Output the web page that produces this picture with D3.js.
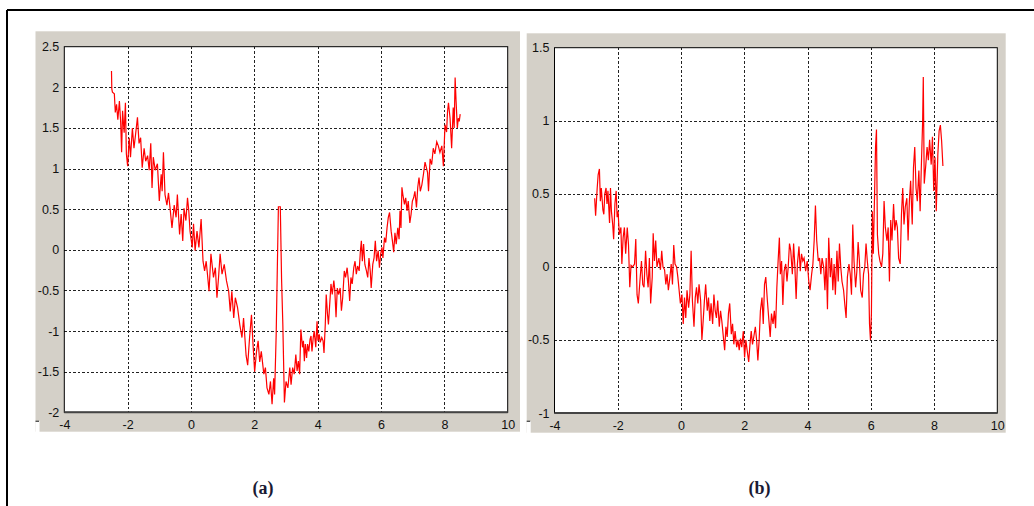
<!DOCTYPE html>
<html>
<head>
<meta charset="utf-8">
<script src="https://cdn.jsdelivr.net/npm/d3@7/dist/d3.min.js"></script>
<style>
  html, body { margin: 0; padding: 0; background: #ffffff; }
  svg { display: block; }
</style>
</head>
<body>
<svg id="chart" width="1034" height="506"></svg>
<script>
// ---------------- DATA ----------------
const xTicks = [-4, -2, 0, 2, 4, 6, 8, 10];
const yTicksA = [-2, -1.5, -1, -0.5, 0, 0.5, 1, 1.5, 2, 2.5];
const yTicksB = [-1, -0.5, 0, 0.5, 1, 1.5];
const panelLabels = ["(a)", "(b)"];

// panel (a) trace
const xA = [
 -2.51,-2.50,-2.48,-2.42,-2.39,-2.35,-2.31,-2.26,-2.22,-2.19,
 -2.16,-2.11,-2.07,-2.04,-2.00,-1.95,-1.91,-1.85,-1.80,-1.75,
 -1.69,-1.64,-1.59,-1.54,-1.48,-1.43,-1.37,-1.32,-1.27,-1.23,
 -1.19,-1.13,-1.06,-1.00,-0.94,-0.91,-0.87,-0.82,-0.76,-0.71,
 -0.66,-0.60,-0.53,-0.47,-0.43,-0.36,-0.31,-0.26,-0.22,-0.16,
 -0.11,-0.07,-0.03,0.04,0.08,0.13,0.19,0.25,0.32,0.38,
 0.43,0.48,0.52,0.57,0.63,0.71,0.77,0.82,0.87,0.92,
 0.98,1.05,1.12,1.19,1.24,1.29,1.35,1.40,1.47,1.54,
 1.61,1.66,1.74,1.79,1.85,1.91,1.96,2.01,2.07,2.12,
 2.17,2.22,2.30,2.35,2.40,2.46,2.51,2.56,2.61,2.64,
 2.69,2.72,2.76,2.82,2.86,2.90,2.95,3.00,3.06,3.12,
 3.16,3.21,3.26,3.31,3.35,3.39,3.43,3.47,3.52,3.55,
 3.58,3.61,3.65,3.68,3.72,3.76,3.79,3.82,3.86,3.89,
 3.94,3.98,4.01,4.05,4.08,4.13,4.17,4.20,4.24,4.27,
 4.31,4.34,4.38,4.42,4.46,4.51,4.54,4.58,4.62,4.66,
 4.71,4.75,4.79,4.84,4.88,4.93,4.97,5.01,5.05,5.09,
 5.14,5.18,5.22,5.26,5.31,5.35,5.38,5.41,5.45,5.49,
 5.54,5.58,5.62,5.66,5.69,5.74,5.78,5.82,5.86,5.91,
 5.95,5.99,6.03,6.06,6.11,6.15,6.19,6.23,6.27,6.32,
 6.36,6.40,6.44,6.48,6.53,6.57,6.60,6.63,6.66,6.69,
 6.74,6.78,6.82,6.86,6.91,6.95,6.99,7.03,7.07,7.12,
 7.16,7.20,7.24,7.29,7.34,7.39,7.44,7.47,7.50,7.55,
 7.60,7.65,7.70,7.76,7.81,7.86,7.92,7.97,8.02,8.07,
 8.10,8.13,8.18,8.23,8.28,8.31,8.34,8.37,8.41,8.44,
 8.47,8.50];
const yA = [
 2.20,1.98,1.94,1.92,1.69,1.79,1.60,1.83,1.57,1.20,
 1.71,1.44,1.81,1.18,1.03,1.38,1.14,1.50,1.25,1.42,
 1.63,1.31,1.38,1.01,1.25,1.09,1.16,0.98,1.31,0.76,
 1.14,0.98,1.06,0.60,0.93,0.72,1.20,0.68,0.55,0.70,
 0.51,0.27,0.55,0.40,0.68,0.19,0.44,0.11,0.51,0.36,
 0.64,0.48,0.23,0.03,0.32,-0.01,0.23,0.03,0.38,-0.14,
 -0.26,-0.14,-0.30,-0.51,-0.05,-0.34,-0.22,-0.59,-0.34,-0.05,
 -0.30,-0.18,-0.38,-0.51,-0.76,-0.51,-0.84,-0.59,-0.71,-0.92,
 -1.08,-0.84,-1.30,-1.42,-1.08,-0.80,-1.17,-1.50,-1.25,-1.12,
 -1.38,-1.25,-1.53,-1.45,-1.70,-1.78,-1.62,-1.90,-1.58,-1.78,
 -1.04,-0.36,0.53,0.53,-0.36,-0.92,-1.88,-1.62,-1.70,-1.45,
 -1.66,-1.45,-1.53,-1.29,-1.49,-1.37,-1.53,-0.98,-1.20,-1.12,
 -1.37,-1.16,-1.33,-1.16,-1.25,-1.10,-1.06,-1.25,-1.08,-1.00,
 -1.20,-0.88,-1.12,-1.04,-1.14,-1.08,-1.12,-1.27,-0.92,-0.55,
 -0.79,-0.92,-0.67,-0.42,-0.55,-0.38,-0.49,-0.83,-0.47,-0.55,
 -0.47,-0.75,-0.59,-0.26,-0.34,-0.22,-0.38,-0.63,-0.34,-0.42,
 -0.22,-0.14,-0.30,-0.20,-0.26,-0.01,0.11,-0.14,0.07,-0.18,
 -0.26,-0.34,-0.10,-0.26,-0.47,-0.18,-0.10,0.11,-0.14,-0.01,
 -0.22,-0.05,0.03,-0.10,0.15,0.09,0.27,0.40,0.46,0.23,
 0.11,-0.03,0.21,0.07,0.27,0.13,0.48,0.27,0.77,0.68,
 0.56,0.64,0.48,0.60,0.33,0.44,0.60,0.64,0.72,0.52,
 0.77,0.89,0.72,0.80,0.93,1.08,1.00,0.95,0.72,1.12,
 1.05,1.25,1.18,1.33,1.28,1.20,1.28,1.03,1.54,1.45,
 1.70,1.81,1.62,1.25,1.75,1.50,2.12,1.83,1.50,1.62,
 1.58,1.67];

// panel (b) trace
const xB = [-2.73,-2.70,-2.65,-2.62,-2.58,-2.55,-2.52,-2.47,-2.44,-2.41,-2.37,-2.34,-2.31,-2.26,-2.23,-2.20,-2.16,-2.13,-2.09,-2.05,
 -2.02,-1.99,-1.95,-1.90,-1.87,-1.83,-1.79,-1.75,-1.70,-1.66,-1.62,-1.58,-1.53,-1.47,-1.43,-1.39,-1.35,-1.30,-1.25,-1.21,
 -1.17,-1.12,-1.08,-1.04,-1.00,-0.96,-0.91,-0.88,-0.84,-0.80,-0.76,-0.70,-0.65,-0.61,-0.57,-0.52,-0.48,-0.44,-0.40,-0.35,
 -0.31,-0.27,-0.23,-0.19,-0.14,-0.10,-0.06,-0.02,0.03,0.07,0.11,0.15,0.19,0.24,0.28,0.32,0.36,0.41,0.45,0.49,
 0.53,0.57,0.62,0.66,0.70,0.74,0.78,0.83,0.87,0.91,0.95,1.00,1.04,1.08,1.12,1.16,1.21,1.25,1.29,1.33,
 1.38,1.42,1.46,1.50,1.54,1.59,1.63,1.67,1.71,1.76,1.80,1.84,1.88,1.92,1.97,2.01,2.05,2.09,2.14,2.18,
 2.22,2.26,2.30,2.35,2.39,2.43,2.47,2.51,2.56,2.60,2.64,2.68,2.73,2.78,2.82,2.86,2.91,2.95,2.99,3.03,
 3.07,3.11,3.14,3.18,3.22,3.26,3.31,3.35,3.39,3.43,3.47,3.52,3.56,3.60,3.64,3.68,3.73,3.77,3.81,3.85,
 3.89,3.94,3.99,4.04,4.08,4.13,4.17,4.21,4.25,4.29,4.34,4.38,4.42,4.46,4.51,4.55,4.59,4.63,4.67,4.72,
 4.76,4.80,4.84,4.88,4.93,4.97,5.01,5.05,5.09,5.14,5.18,5.22,5.26,5.31,5.35,5.39,5.43,5.47,5.52,5.56,
 5.60,5.64,5.68,5.73,5.77,5.81,5.85,5.89,5.93,5.96,5.99,6.02,6.05,6.08,6.12,6.15,6.18,6.21,6.25,6.29,
 6.34,6.38,6.42,6.46,6.51,6.55,6.59,6.63,6.67,6.72,6.76,6.80,6.84,6.88,6.93,6.97,7.01,7.05,7.09,7.14,
 7.18,7.22,7.26,7.31,7.35,7.39,7.43,7.47,7.52,7.56,7.60,7.64,7.66,7.69,7.74,7.78,7.82,7.86,7.91,7.95,
 7.99,8.03,8.07,8.12,8.16,8.20,8.24,8.28];
const yB = [0.47,0.35,0.54,0.63,0.67,0.45,0.54,0.39,0.36,0.50,0.54,0.43,0.52,0.30,0.54,0.38,0.29,0.19,0.43,0.52,
 0.34,0.38,0.22,0.27,0.02,0.20,0.27,0.09,0.27,0.15,-0.14,0.01,0.00,0.02,0.19,-0.19,-0.25,-0.10,0.04,-0.12,
 -0.14,0.11,-0.05,-0.14,0.06,-0.25,-0.07,0.23,0.04,0.18,0.00,0.06,-0.02,0.11,0.00,-0.02,-0.12,-0.05,-0.16,-0.07,
 0.02,-0.12,0.15,0.02,0.00,-0.07,-0.16,-0.25,-0.19,-0.39,-0.21,-0.35,-0.16,-0.28,-0.19,0.11,-0.23,-0.41,-0.21,-0.14,
 -0.25,-0.12,-0.23,-0.50,-0.37,-0.23,-0.12,-0.30,-0.21,-0.37,-0.25,-0.39,-0.19,-0.30,-0.35,-0.23,-0.41,-0.30,-0.37,-0.46,
 -0.57,-0.41,-0.48,-0.32,-0.25,-0.46,-0.39,-0.53,-0.44,-0.55,-0.50,-0.57,-0.49,-0.55,-0.44,-0.62,-0.50,-0.57,-0.65,-0.53,
 -0.44,-0.53,-0.48,-0.41,-0.50,-0.64,-0.50,-0.30,-0.21,-0.39,-0.12,-0.07,-0.23,-0.37,-0.48,-0.32,-0.39,-0.30,-0.42,-0.14,
 0.04,0.20,-0.05,0.04,-0.26,-0.03,0.02,-0.10,0.00,0.16,0.11,-0.05,0.16,0.00,-0.22,0.02,0.14,-0.03,0.09,0.04,
 0.06,-0.03,0.04,-0.10,-0.16,-0.05,0.02,0.18,0.42,0.18,0.04,0.06,-0.05,0.06,0.00,-0.16,0.06,-0.29,0.20,-0.07,
 0.06,-0.16,0.02,-0.19,0.11,-0.10,0.16,0.00,-0.10,-0.16,-0.26,-0.35,-0.07,0.02,-0.05,-0.19,0.29,0.04,-0.14,-0.03,
 0.17,0.04,-0.16,-0.21,-0.05,0.00,0.16,0.04,-0.05,-0.39,-0.50,-0.32,0.38,0.09,0.50,0.82,0.94,0.22,0.09,0.04,
 0.00,0.09,0.45,0.27,0.18,0.27,-0.10,0.32,0.18,0.43,0.25,0.32,0.27,0.06,0.02,0.36,0.54,0.29,0.41,0.47,
 0.18,0.45,0.59,0.29,0.68,0.82,0.54,0.45,0.66,0.38,0.70,1.00,1.30,0.57,0.70,0.82,0.73,0.87,0.70,0.89,
 0.52,0.75,0.38,0.77,0.93,0.97,0.86,0.69];

// ---------------- DRAW ----------------
const svg = d3.select("#chart");

// outer frame (top and left edges)
svg.append("line").attr("x1", 7).attr("y1", 10).attr("x2", 1034).attr("y2", 10)
  .attr("stroke", "#000").attr("stroke-width", 2);
svg.append("line").attr("x1", 7).attr("y1", 10).attr("x2", 7).attr("y2", 506)
  .attr("stroke", "#000").attr("stroke-width", 2);

const panels = [
  { bg: [35.5, 31.3, 520, 431.7], xr: [64.3, 507.7], yr: [412.3, 46.7], yd: [-2, 2.5], yTicks: yTicksA,
    xs: xA, ys: yA, label: panelLabels[0], lx: 263, xLabY: 424.5 },
  { bg: [526.7, 33.3, 1005.7, 432.7], xr: [554.5, 997.3], yr: [413, 47.7], yd: [-1, 1.5], yTicks: yTicksB,
    xs: xB, ys: yB, label: panelLabels[1], lx: 759.5, xLabY: 426 }
];

panels.forEach(p => {
  const g = svg.append("g");
  const [bx0, by0, bx1, by1] = p.bg;
  g.append("rect").attr("x", bx0).attr("y", by0).attr("width", bx1 - bx0).attr("height", by1 - by0)
    .attr("fill", "#d4d0c8");
  // small notch at lower-left corner of the figure window
  g.append("rect").attr("x", bx0).attr("y", 421).attr("width", 4).attr("height", by1 - 421 + 0.5)
    .attr("fill", "#ffffff");
  g.append("rect").attr("x", bx0).attr("y", 420.6).attr("width", 3.5).attr("height", 1.4)
    .attr("fill", "#555");

  const x = d3.scaleLinear().domain([-4, 10]).range(p.xr);
  const y = d3.scaleLinear().domain(p.yd).range(p.yr);

  // plot area
  g.append("rect").attr("x", p.xr[0]).attr("y", p.yr[1])
    .attr("width", p.xr[1] - p.xr[0]).attr("height", p.yr[0] - p.yr[1])
    .attr("fill", "#ffffff");

  // grid
  const grid = g.append("g").attr("stroke", "#222").attr("stroke-width", 1)
    .attr("stroke-dasharray", "2.5,2").attr("shape-rendering", "crispEdges");
  grid.selectAll("line.v").data(xTicks.slice(1, -1)).join("line")
    .attr("x1", d => Math.round(x(d)) + 0.5).attr("x2", d => Math.round(x(d)) + 0.5)
    .attr("y1", p.yr[1]).attr("y2", p.yr[0]);
  grid.selectAll("line.h").data(p.yTicks.slice(1, -1)).join("line")
    .attr("y1", d => Math.round(y(d)) + 0.5).attr("y2", d => Math.round(y(d)) + 0.5)
    .attr("x1", p.xr[0]).attr("x2", p.xr[1]);

  // trace
  const pts = p.xs.map((v, i) => [v, p.ys[i]]);
  g.append("path").datum(pts)
    .attr("fill", "none").attr("stroke", "#ff0000").attr("stroke-width", 1.2)
    .attr("stroke-linejoin", "miter")
    .attr("d", d3.line().x(d => x(d[0])).y(d => y(d[1])));

  // box
  g.append("rect").attr("x", p.xr[0]).attr("y", p.yr[1])
    .attr("width", p.xr[1] - p.xr[0]).attr("height", p.yr[0] - p.yr[1])
    .attr("fill", "none").attr("stroke", "#000").attr("stroke-width", 1);
  g.append("line").attr("x1", p.xr[0]).attr("x2", p.xr[1]).attr("y1", p.yr[0]).attr("y2", p.yr[0])
    .attr("stroke", "#444").attr("stroke-width", 2);

  // axes (labels only)
  const fmt = d => String(d);
  const ax = g.append("g").attr("transform", `translate(0,${p.xLabY})`)
    .call(d3.axisBottom(x).tickValues(xTicks).tickFormat(fmt).tickSize(0).tickPadding(0));
  ax.select(".domain").remove();
  ax.selectAll("text").attr("dy", "0.35em");
  const ay = g.append("g").attr("transform", `translate(${p.xr[0]},0)`)
    .call(d3.axisLeft(y).tickValues(p.yTicks).tickFormat(fmt).tickSize(0).tickPadding(5));
  ay.select(".domain").remove();
  g.selectAll(".tick text").attr("font-family", "'Liberation Sans', Arial, sans-serif")
    .attr("font-size", "12.5px").attr("fill", "#111");

  // panel label
  svg.append("text").attr("x", p.lx).attr("y", 494).attr("text-anchor", "middle")
    .attr("font-family", "'Liberation Serif', 'Times New Roman', serif")
    .attr("font-weight", "bold").attr("font-size", "18px").attr("fill", "#1a1a33")
    .text(p.label);
});
</script>
</body>
</html>
